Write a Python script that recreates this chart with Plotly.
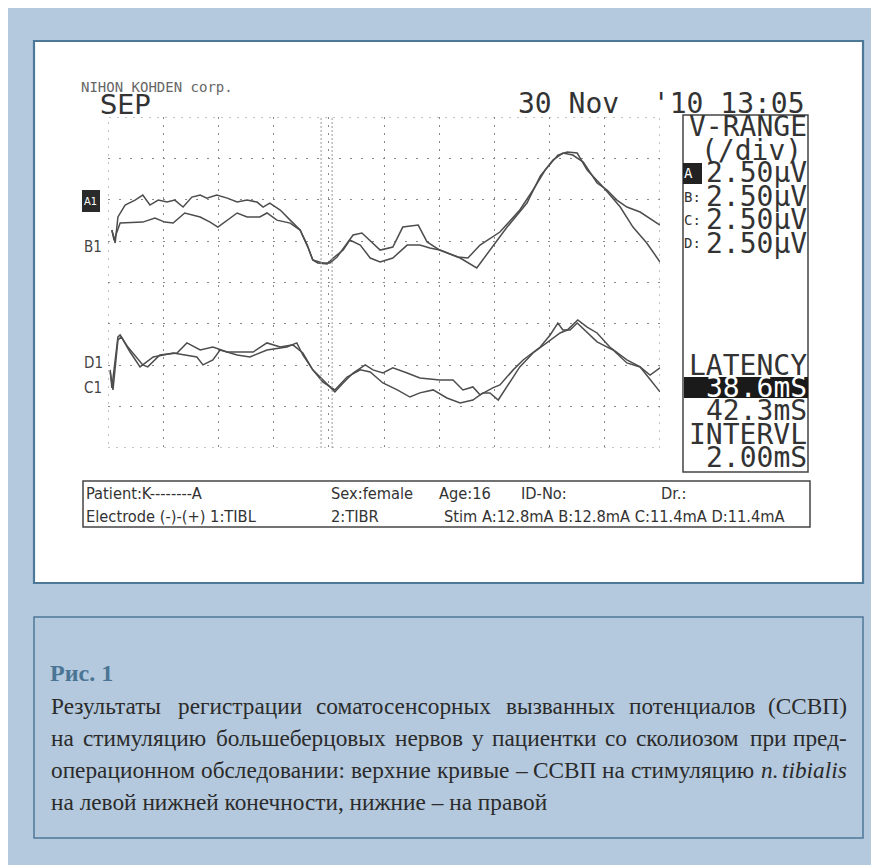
import plotly.graph_objects as go

# page is offset by the browser's 8px body margin; figure fills the rest of the 879x865 window
OX, OY = 8, 8
FW, FH = 871, 857

# ---------------- data (time in ms, amplitude in µV; 10 ms/div, 2.5 µV/div) ----------------
a_t = [0.7, 1.3, 1.8, 3.1, 4.9, 6.3, 7.6, 9.1, 10.7, 12.1, 13.6, 15.2, 16.7, 17.9, 19.7, 21.6,
       23.4, 25.2, 27.0, 28.1, 29.3, 31.2, 33.0, 34.8, 36.2, 37.1, 38.9, 40.2, 41.5, 43.3, 44.4,
       46.0, 47.8, 49.3, 51.6, 53.4, 56.2, 57.8, 60.1, 63.8, 66.8, 69.2, 72.3, 75.9, 78.3, 80.6,
       82.4, 84.2, 86.1, 88.6, 90.4, 92.2, 94.0, 96.4, 100.0]
a_v = [3.17, 2.39, 3.96, 4.68, 4.98, 5.28, 4.68, 4.98, 4.86, 4.98, 4.56, 5.16, 5.28, 5.10, 5.28, 5.10,
       4.86, 4.98, 4.86, 4.56, 4.80, 4.38, 3.77, 3.17, 2.14, 1.36, 1.18, 1.18, 1.54, 2.39, 2.87,
       2.99, 2.45, 1.96, 2.14, 3.35, 3.47, 2.45, 1.96, 1.48, 0.88, 1.96, 3.35, 4.80, 6.43, 7.40,
       7.82, 7.70, 7.28, 6.01, 5.59, 4.98, 4.56, 4.26, 3.47]

b_t = [0.7, 1.1, 2.2, 4.9, 6.3, 8.5, 10.3, 11.8, 13.9, 16.7, 18.5, 19.9, 21.6, 23.4, 25.2, 27.5,
       28.8, 30.6, 33.0, 34.8, 36.1, 37.1, 38.0, 39.7, 40.8, 42.6, 43.8, 45.7, 47.5, 49.3, 51.6,
       54.2, 56.5, 58.3, 60.1, 63.4, 65.2, 67.4, 71.0, 74.6, 77.0, 79.2, 81.5, 83.2, 85.0, 86.8,
       89.7, 92.8, 95.1, 97.6, 100.0]
b_v = [3.17, 2.57, 3.59, 3.65, 3.65, 3.90, 3.65, 3.59, 4.20, 3.96, 3.65, 3.35, 3.77, 4.20, 3.96, 3.96,
       4.20, 3.77, 3.59, 3.17, 2.26, 1.36, 1.18, 1.12, 1.48, 1.96, 2.57, 2.26, 1.48, 1.24, 1.48,
       2.26, 2.26, 2.08, 1.96, 1.54, 1.48, 2.26, 3.05, 4.38, 5.59, 6.79, 7.70, 7.88, 7.82, 6.79,
       5.77, 4.56, 3.35, 2.39, 1.24]

c_t = [0.4, 0.7, 1.8, 2.2, 3.6, 5.3, 6.3, 7.2, 9.4, 12.5, 14.3, 16.7, 19.0, 21.6, 23.9, 26.3,
       28.8, 31.2, 33.5, 35.3, 37.1, 38.9, 41.1, 42.6, 44.4, 46.6, 48.0, 49.8, 51.6, 54.2, 56.5,
       60.1, 62.5, 64.3, 66.1, 67.4, 69.7, 71.0, 73.4, 75.2, 78.3, 80.1, 81.5, 82.4, 83.7, 85.0,
       86.8, 88.6, 91.5, 94.0, 96.4, 98.2, 100.0]
c_v = [-5.28, -6.37, -3.29, -3.17, -3.90, -4.56, -4.98, -5.10, -4.38, -4.26, -3.65, -4.08, -3.90,
       -4.20, -4.20, -4.20, -3.65, -3.90, -3.77, -4.26, -5.28, -5.89, -6.61, -6.07, -5.47, -4.98,
       -5.28, -5.47, -5.16, -5.47, -5.77, -5.89, -5.89, -6.49, -6.31, -6.79, -6.37, -6.19, -5.28,
       -4.68, -3.90, -3.17, -2.45, -2.87, -2.87, -2.45, -3.05, -3.59, -4.08, -4.86, -5.10, -5.59,
       -5.16]

d_t = [0.4, 0.9, 1.8, 2.4, 4.0, 5.8, 8.2, 11.8, 16.1, 17.2, 19.0, 20.3, 23.4, 25.7, 28.8, 32.4,
       34.2, 35.3, 37.1, 38.9, 41.1, 43.3, 45.7, 47.5, 49.8, 52.4, 54.7, 56.5, 58.9, 61.4, 63.8,
       66.1, 67.9, 69.2, 70.7, 72.3, 74.6, 77.0, 80.1, 81.9, 83.2, 85.1, 86.8, 88.6, 90.9, 94.0,
       96.4, 98.7, 100.0]
d_v = [-5.41, -6.49, -3.47, -3.29, -4.20, -5.10, -4.50, -4.26, -4.50, -4.98, -4.68, -4.08, -4.38,
       -4.50, -4.08, -3.90, -3.65, -4.38, -5.28, -6.01, -6.49, -5.71, -5.28, -5.41, -6.07, -6.49,
       -6.92, -6.67, -6.49, -6.98, -7.28, -7.10, -6.67, -6.67, -7.10, -6.31, -5.10, -4.26, -3.47,
       -3.05, -2.87, -2.26, -2.69, -3.05, -3.90, -4.68, -5.10, -6.07, -6.61]

latency_marks = [38.6, 40.6]

t_range = [0, 100]
v_range = [-10, 10]
t_div = 10
v_div = 2.5

header_left = "NIHON KOHDEN corp."
mode_label = "SEP"
date_text = "30 Nov\u00a0 '10 13:05"
vrange_rows = ["2.50µV", "2.50µV", "2.50µV", "2.50µV"]
vrange_labels = ["A", "B:", "C:", "D:"]
latency_values = ["38.6mS", "42.3mS"]
interval_value = "2.00mS"
info_line1 = [("Patient:K--------A", 85), ("Sex:female", 330), ("Age:16", 438), ("ID-No:", 520), ("Dr.:", 660)]
info_line2 = [("Electrode (-)-(+) 1:TIBL", 85), ("2:TIBR", 330), ("Stim A:12.8mA B:12.8mA C:11.4mA D:11.4mA", 443)]

caption_title = "Рис. 1"
caption_lines = [
    "Результаты регистрации соматосенсорных вызванных потенциалов (ССВП)",
    "на стимуляцию большеберцовых нервов у пациентки со сколиозом при пред-",
    "операционном обследовании: верхние кривые – ССВП на стимуляцию n. tibialis",
    "на левой нижней конечности, нижние – на правой",
]
italic_words = {"n.", "tibialis"}


def X(px):
    return (px - OX) / FW


def Y(py):
    return 1 - (py - OY) / FH


TRACE_COLOR = "#4d4d4d"
GRID_COLOR = "#8a8a8a"
MONO = "DejaVu Sans Mono"
NARROW = "Liberation Sans Narrow, DejaVu Sans Condensed, Arial Narrow, DejaVu Sans Mono"
SERIF = "Liberation Serif"
BLUE_BG = "#b4c9dd"
BORDER = "#4e7898"

fig = go.Figure()
for tt, vv in [(a_t, a_v), (b_t, b_v), (c_t, c_v), (d_t, d_v)]:
    fig.add_trace(go.Scatter(x=tt, y=vv, mode="lines",
                             line=dict(color=TRACE_COLOR, width=1.5),
                             hoverinfo="skip", showlegend=False))
for lx in latency_marks:
    fig.add_trace(go.Scatter(x=[lx, lx], y=v_range, mode="lines",
                             line=dict(color="#9a9a9a", width=1, dash="2px,2px"),
                             hoverinfo="skip", showlegend=False))

shapes = [
    dict(type="rect", xref="paper", yref="paper", x0=0, x1=1, y0=0, y1=1,
         fillcolor=BLUE_BG, line=dict(width=0), layer="below"),
    dict(type="rect", xref="paper", yref="paper", x0=X(34), x1=X(863), y0=Y(583), y1=Y(41),
         fillcolor="white", line=dict(color=BORDER, width=2.2), layer="below"),
    dict(type="rect", xref="paper", yref="paper", x0=X(34), x1=X(863), y0=Y(838), y1=Y(617),
         fillcolor="rgba(0,0,0,0)", line=dict(color=BORDER, width=1.5)),
    dict(type="rect", xref="x", yref="y", x0=t_range[0], x1=t_range[1], y0=v_range[0], y1=v_range[1],
         line=dict(color=GRID_COLOR, width=1, dash="2px,6px"), layer="below"),
    dict(type="rect", xref="paper", yref="paper", x0=X(683), x1=X(808), y0=Y(472), y1=Y(115),
         line=dict(color="#444", width=1.5)),
    dict(type="rect", xref="paper", yref="paper", x0=X(683), x1=X(702), y0=Y(184), y1=Y(163),
         fillcolor="#222", line=dict(width=0)),
    dict(type="rect", xref="paper", yref="paper", x0=X(684), x1=X(808), y0=Y(398), y1=Y(377),
         fillcolor="#1a1a1a", line=dict(width=0)),
    dict(type="rect", xref="paper", yref="paper", x0=X(83), x1=X(810), y0=Y(527), y1=Y(481),
         line=dict(color="#444", width=1.5)),
    dict(type="rect", xref="paper", yref="paper", x0=X(82), x1=X(100), y0=Y(212), y1=Y(190),
         fillcolor="#2a2a2a", line=dict(width=0)),
]

ann = []


def txt(text, x, y, size, family, color="#333", xanchor="left", bold=False):
    ann.append(dict(text=f"<b>{text}</b>" if bold else text, x=X(x), y=Y(y),
                    xref="paper", yref="paper", xanchor=xanchor, yanchor="middle",
                    showarrow=False, borderpad=0,
                    font=dict(size=size, family=family, color=color)))


txt(header_left, 80, 87, 14, MONO, "#666")
txt(mode_label, 99, 105, 27, "DejaVu Sans", "#333")
txt(date_text, 806, 103, 28, MONO, "#333", "right")
txt("V-RANGE", 808, 126, 28, MONO, "#333", "right")
txt("(/div)", 803, 150, 28, MONO, "#333", "right")
row_y = [173, 197, 220, 243]
for lab, val, yy in zip(vrange_labels, vrange_rows, row_y):
    txt(val, 808, yy, 28, MONO, "#333", "right")
    txt(lab, 683, yy, 14, MONO, "white" if lab == "A" else "#333")
txt("LATENCY", 808, 365, 28, MONO, "#333", "right")
txt(latency_values[0], 808, 387, 28, MONO, "white", "right")
txt(latency_values[1], 808, 410, 28, MONO, "#333", "right")
txt("INTERVL", 808, 434, 28, MONO, "#333", "right")
txt(interval_value, 808, 457, 28, MONO, "#333", "right")

for s, xx in info_line1:
    txt(s, xx, 493, 16.3, NARROW, "#333")
for s, xx in info_line2:
    txt(s, xx, 516, 16.3, NARROW, "#333")

txt("A1", 83, 201, 11, NARROW, "white")
txt("B1", 83, 247, 15, NARROW, "#444")
txt("D1", 83, 363, 15, NARROW, "#444")
txt("C1", 83, 388, 15, NARROW, "#444")

# ---- caption (justified like the printed page) ----
CAP_FS = 23.3
CAP_L, CAP_R = 50, 848
cap_y = [706, 738, 770, 802]
W_REG = {"а": 444, "б": 500, "в": 472, "г": 410, "д": 499, "е": 444, "ж": 691, "з": 395, "и": 535,
         "й": 535, "к": 486, "л": 499, "м": 633, "н": 535, "о": 500, "п": 535, "р": 500, "с": 444,
         "т": 437, "у": 500, "ф": 648, "х": 500, "ц": 535, "ч": 503, "ш": 770, "щ": 770, "ъ": 517,
         "ы": 672, "ь": 456, "э": 429, "ю": 747, "я": 477, "Р": 556, "С": 667, "В": 667, "П": 722,
         " ": 250, "(": 333, ")": 333, ":": 278, ".": 250, ",": 250, "–": 500, "-": 333}
W_ITAL = {"n": 500, ".": 250, "t": 278, "i": 278, "b": 500, "a": 500, "l": 278, "s": 389}


def word_w(w):
    table = W_ITAL if w in italic_words else W_REG
    return sum(table.get(ch, 500) for ch in w) / 1000 * CAP_FS


txt(caption_title, 49, 673, 24, SERIF, "#4a7595", bold=True)
for i, line in enumerate(caption_lines):
    words = line.split(" ")
    if i == len(caption_lines) - 1:
        txt(line, CAP_L, cap_y[i], CAP_FS, SERIF, "#2b2b2b")
        continue
    ws = [word_w(w) for w in words]
    gap = (CAP_R - CAP_L - sum(ws)) / (len(words) - 1)
    xpos = CAP_L
    for j, w in enumerate(words):
        label = f"<i>{w}</i>" if w in italic_words else w
        if j == len(words) - 1:
            txt(label, CAP_R, cap_y[i], CAP_FS, SERIF, "#2b2b2b", "right")
        else:
            txt(label, xpos, cap_y[i], CAP_FS, SERIF, "#2b2b2b")
        xpos += ws[j] + gap

axis_common = dict(showticklabels=False, ticks="", zeroline=False, showline=False,
                   fixedrange=True, showgrid=True, gridcolor=GRID_COLOR, gridwidth=1)

fig.update_layout(
    width=FW, height=FH, margin=dict(l=0, r=0, t=0, b=0),
    paper_bgcolor=BLUE_BG, plot_bgcolor="rgba(0,0,0,0)",
    xaxis=dict(domain=[X(108), X(660)], range=t_range, dtick=t_div, tick0=0,
               griddash="2px,6px", **axis_common),
    yaxis=dict(domain=[Y(448), Y(117)], range=v_range, dtick=v_div, tick0=0,
               griddash="2px,9px", **axis_common),
    shapes=shapes, annotations=ann, showlegend=False,
)

fig.write_html("out.html")
